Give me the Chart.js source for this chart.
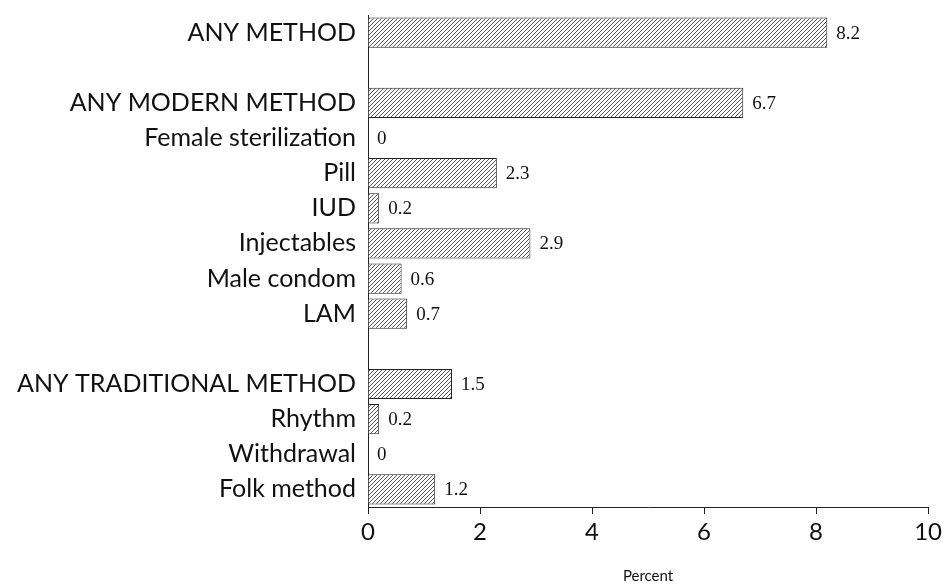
<!DOCTYPE html>
<html lang="en">
<head>
    <meta charset="UTF-8">
    <title>Contraceptive use</title>
    <script src="https://cdn.jsdelivr.net/npm/chart.js"></script>
    <style>
        html, body { margin: 0; padding: 0; background: #fff; }
        #wrap { width: 946px; height: 585px; }
    </style>
</head>
<body>
    <div id="wrap"><canvas id="methodChart"></canvas></div>
    <script>
        // categories, '' marks a blank spacer row
        const methods = [
            'ANY METHOD', '',
            'ANY MODERN METHOD', 'Female sterilization', 'Pill', 'IUD',
            'Injectables', 'Male condom', 'LAM', '',
            'ANY TRADITIONAL METHOD', 'Rhythm', 'Withdrawal', 'Folk method'
        ];
        const percents = [8.2, null, 6.7, 0, 2.3, 0.2, 2.9, 0.6, 0.7, null, 1.5, 0.2, 0, 1.2];
        const xTicks = [0, 2, 4, 6, 8, 10];

        function makeHatch() {
            const size = 4;
            const c = document.createElement('canvas');
            c.width = size;
            c.height = size;
            const g = c.getContext('2d');
            g.fillStyle = '#fff';
            g.fillRect(0, 0, size, size);
            g.strokeStyle = '#444';
            g.lineWidth = 0.9;
            g.beginPath();
            g.moveTo(0, size);
            g.lineTo(size, 0);
            g.moveTo(-1, 1);
            g.lineTo(1, -1);
            g.moveTo(size - 1, size + 1);
            g.lineTo(size + 1, size - 1);
            g.stroke();
            return g.createPattern(c, 'repeat');
        }

        // writes the value right of each bar
        const valueLabels = {
            id: 'valueLabels',
            afterDatasetsDraw(chart) {
                const ctx = chart.ctx;
                const meta = chart.getDatasetMeta(0);
                ctx.save();
                ctx.font = '19px "Liberation Serif", serif';
                ctx.fillStyle = '#111';
                ctx.textAlign = 'left';
                ctx.textBaseline = 'middle';
                meta.data.forEach((bar, i) => {
                    const v = percents[i];
                    if (v === null) return;
                    ctx.fillText(String(v), bar.x + 9, bar.y + 1);
                });
                ctx.restore();
            }
        };

        const ctx = document.getElementById('methodChart').getContext('2d');

        new Chart(ctx, {
            type: 'bar',
            data: {
                labels: methods,
                datasets: [{
                    data: percents,
                    backgroundColor: makeHatch(),
                    borderColor: '#222',
                    borderWidth: 1,
                    borderSkipped: 'start',
                    barPercentage: 0.86,
                    categoryPercentage: 1
                }]
            },
            plugins: [valueLabels],
            options: {
                indexAxis: 'y',
                responsive: true,
                maintainAspectRatio: false,
                animation: false,
                layout: { padding: { top: 15, right: 16, left: 0, bottom: 0 } },
                plugins: {
                    legend: { display: false },
                    tooltip: { enabled: false }
                },
                scales: {
                    x: {
                        min: 0,
                        max: 10,
                        afterBuildTicks(axis) {
                            axis.ticks = xTicks.map(v => ({ value: v }));
                        },
                        afterFit(axis) { axis.height = 78; },
                        grid: {
                            drawOnChartArea: false,
                            drawTicks: true,
                            tickLength: 7,
                            color: '#222'
                        },
                        border: { display: true, color: '#222', width: 1 },
                        ticks: {
                            color: '#111',
                            padding: 4,
                            maxRotation: 0,
                            font: { family: 'Lato', size: 24 }
                        },
                        title: {
                            display: true,
                            text: 'Percent',
                            color: '#111',
                            padding: { top: 10, bottom: 0 },
                            font: { family: 'Lato', size: 15 }
                        }
                    },
                    y: {
                        afterFit(axis) {
                            axis.width = 368;
                            axis.paddingTop = 0;
                            axis.paddingBottom = 0;
                        },
                        grid: { display: false, drawTicks: false },
                        border: { display: true, color: '#222', width: 1 },
                        ticks: {
                            color: '#111',
                            padding: 12,
                            autoSkip: false,
                            font: { family: 'Lato', size: 25 }
                        }
                    }
                }
            }
        });
    </script>
</body>
</html>
